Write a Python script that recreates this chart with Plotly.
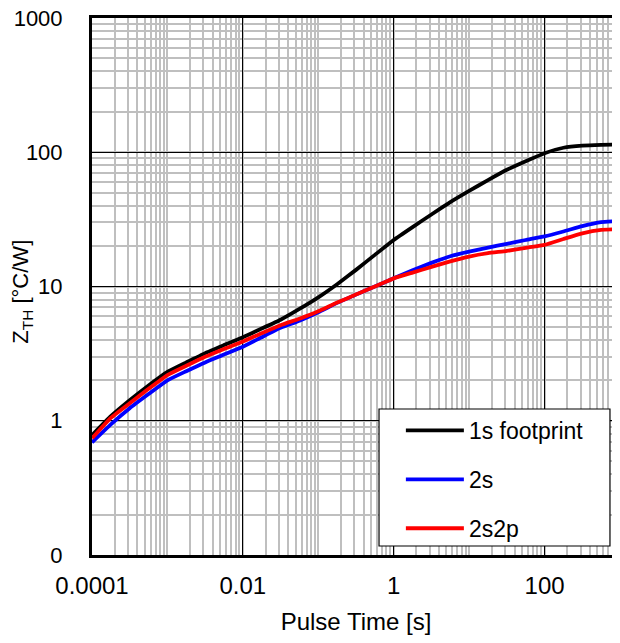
import plotly.graph_objects as go

# log10 of pulse time [s]
log_t = [-4, -3.75, -3.5, -3.25, -3, -2.75, -2.5, -2.25, -2, -1.75, -1.5, -1.25,
         -1, -0.75, -0.5, -0.25, 0, 0.25, 0.5, 0.75, 1, 1.25, 1.5, 1.75, 2,
         2.25, 2.5, 2.75, 3]
pulse_time = [10 ** v for v in log_t]

z_1s_footprint = [0.78, 1.08, 1.42, 1.83, 2.31, 2.72, 3.19, 3.66, 4.19, 4.86, 5.65, 6.8,
                  8.3, 10.4, 13.3, 17.2, 22.2, 27.7, 34.4, 42.5, 51.5, 62, 74, 85.7, 98.4,
                  108, 112, 113.5, 114]
z_2s = [0.69, 0.94, 1.24, 1.58, 2.0, 2.34, 2.72, 3.11, 3.56, 4.19, 4.92, 5.56,
        6.43, 7.55, 8.7, 10.0, 11.5, 13.2, 15.0, 16.8, 18.2, 19.5, 20.8, 22.2, 23.6,
        25.7, 28.2, 30.2, 30.8]
z_2s2p = [0.74, 1.05, 1.35, 1.73, 2.19, 2.57, 3.0, 3.43, 3.89, 4.49, 5.15, 5.75,
          6.53, 7.6, 8.7, 10.0, 11.5, 12.7, 14.0, 15.4, 16.7, 17.7, 18.4, 19.4, 20.4,
          22.6, 24.9, 26.4, 26.7]

series_names = ["1s footprint", "2s", "2s2p"]
series_values = [z_1s_footprint, z_2s, z_2s2p]
series_colors = ["#000000", "#0000FF", "#FF0000"]

x_tick_vals = [0.0001, 0.01, 1, 100]
x_tick_text = ["0.0001", "0.01", "1", "100"]
y_tick_vals = [0.1, 1, 10, 100, 1000]
y_tick_text = ["0", "1", "10", "100", "1000"]

FONT = "Liberation Sans, Arial, sans-serif"

fig = go.Figure()
for name, vals, col in zip(series_names, series_values, series_colors):
    fig.add_trace(go.Scatter(
        x=pulse_time, y=vals, mode="lines", name=name, legendgroup=name,
        line=dict(color=col, width=3.8, shape="spline", smoothing=0.4),
    ))

# legend frame (box behind the legend entries)
fig.add_shape(type="rect", xref="paper", yref="paper",
              x0=0.5436, x1=0.981, y0=0.0168, y1=0.2719,
              fillcolor="white", line=dict(color="#000000", width=1.2), layer="above")

# y-axis title
fig.add_annotation(text="Z<sub>TH</sub> [°C/W]", xref="paper", yref="paper",
                   x=-0.133, y=0.49, xanchor="center", yanchor="middle",
                   textangle=-90, showarrow=False,
                   font=dict(family=FONT, size=22, color="#000000"))

fig.update_layout(
    width=612, height=627,
    margin=dict(l=84, r=0, t=10, b=80, autoexpand=False),
    paper_bgcolor="white", plot_bgcolor="white",
    font=dict(family=FONT, size=24, color="#000000"),
    legend=dict(
        x=0.585, y=0.2719, xanchor="left", yanchor="top",
        bgcolor="rgba(0,0,0,0)", borderwidth=0,
        font=dict(family=FONT, size=23, color="#000000"),
        traceorder="grouped", tracegroupgap=16, itemwidth=58,
    ),
    xaxis=dict(
        type="log", range=[-4, 3], automargin=False,
        tickvals=x_tick_vals, ticktext=x_tick_text,
        ticks="", ticklabelstandoff=7, ticklabeloverflow="allow",
        tickfont=dict(size=24),
        showgrid=True, gridcolor="#000000", gridwidth=1.2,
        minor=dict(dtick="D1", showgrid=True, gridcolor="#BFBFBF", gridwidth=1.5, ticks=""),
        showline=True, linecolor="#000000", linewidth=3, mirror=True,
        title=dict(text="Pulse Time [s]", standoff=21, font=dict(size=24)),
        zeroline=False,
    ),
    yaxis=dict(
        type="log", range=[-1, 3], automargin=False,
        tickvals=y_tick_vals, ticktext=y_tick_text,
        ticks="", ticklabelstandoff=22, ticklabeloverflow="allow",
        tickfont=dict(size=22),
        showgrid=True, gridcolor="#000000", gridwidth=1.2,
        minor=dict(dtick="D1", showgrid=True, gridcolor="#BFBFBF", gridwidth=1.5, ticks=""),
        showline=True, linecolor="#000000", linewidth=3, mirror=False,
        zeroline=False,
    ),
)

fig.write_html("out.html")
